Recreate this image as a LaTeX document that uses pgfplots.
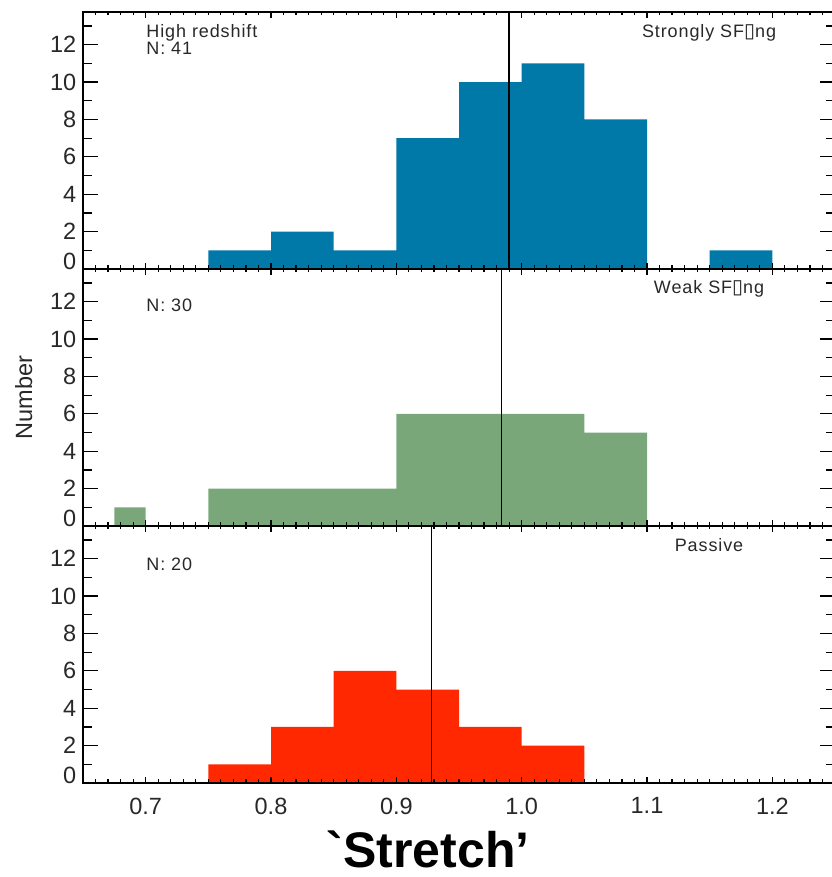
\documentclass[border=0pt]{standalone}
\usepackage{fontspec}
\setmainfont{Liberation Sans}[Ligatures=TeXOff]
\newfontfamily\dejavu{DejaVu Sans}
\usepackage{pgfplots}
\pgfplotsset{compat=1.18}
\definecolor{cblue}{RGB}{0,120,168}
\definecolor{cgreen}{RGB}{121,167,121}
\definecolor{cred}{RGB}{255,40,0}
\definecolor{txtgray}{RGB}{40,40,40}
\newcommand{\ticksize}{\fontsize{23.5}{28}\selectfont}
\newcommand{\insize}{\fontsize{18}{21}\selectfont\addfontfeatures{LetterSpace=5}}
\newcommand{\bx}{{\dejavu\fontsize{20}{22}\selectfont ▯}}
\pgfplotsset{
  panel/.style={
    scale only axis, width=752pt, height=257pt,
    xmin=0.65, xmax=1.25, ymin=0, ymax=13.75,
    axis on top,
    line width=1.5pt,
    xtick={0.7,0.8,0.9,1.0,1.1,1.2},
    minor xtick={0.65,0.66,...,1.25},
    ytick={0,2,4,6,8,10,12},
    minor ytick={1,3,5,7,9,11,13},
    yticklabels={\raisebox{16pt}{0},2,4,6,8,10,12},
    tick align=inside,
    xtick style={black, line width=1.2pt, /pgfplots/major tick length=6pt, /pgfplots/minor tick length=3.5pt},
    ytick style={black, line width=1.2pt, /pgfplots/major tick length=15pt, /pgfplots/minor tick length=9pt},
    tick label style={font=\ticksize, text=txtgray},
    yticklabel style={inner sep=0pt, xshift=-6pt},
    xticklabel style={inner sep=0pt, yshift=-14pt},
  },
}
\begin{document}
\begin{tikzpicture}
\useasboundingbox (0,0) rectangle (831pt,877pt);
% top panel
\begin{axis}[panel, at={(83pt,608pt)}, anchor=south west, xticklabels={}]
\addplot[const plot, fill=cblue, draw=none] coordinates {
 (0.75,1) (0.80,2) (0.85,1) (0.90,7) (0.95,10) (1.00,11) (1.05,8) (1.10,0) (1.15,1) (1.20,0)} \closedcycle;
\addplot[black, line width=1.6pt] coordinates {(0.990,0) (0.990,13.75)};
\node[anchor=base west, font=\insize, text=txtgray, inner sep=0pt] at (axis cs:0.70,12.4) {High redshift};
\node[anchor=base west, font=\insize, text=txtgray, inner sep=0pt] at (axis cs:0.70,11.48) {N: 41};
\node[anchor=base, font=\insize, text=txtgray, inner sep=0pt] at (axis cs:1.1495,12.4) {Strongly SF\bx ng};
\end{axis}
% middle panel
\begin{axis}[panel, at={(83pt,351pt)}, anchor=south west, xticklabels={},
  ylabel={Number},
  every axis y label/.style={at={(axis description cs:-0.0678,0.5)}, rotate=90, anchor=base, inner sep=0pt, font=\ticksize, text=txtgray}]
\addplot[const plot, fill=cgreen, draw=none] coordinates {
 (0.675,1) (0.70,0) (0.75,2) (0.80,2) (0.85,2) (0.90,6) (0.95,6) (1.00,6) (1.05,5) (1.10,0)} \closedcycle;
\addplot[black, line width=1.6pt] coordinates {(0.9838,0) (0.9838,13.75)};
\node[anchor=base west, font=\insize, text=txtgray, inner sep=0pt] at (axis cs:0.70,11.5) {N: 30};
\node[anchor=base, font=\insize, text=txtgray, inner sep=0pt] at (axis cs:1.1495,12.46) {Weak SF\bx ng};
\end{axis}
% bottom panel
\begin{axis}[panel, at={(83pt,94pt)}, anchor=south west,
  xticklabels={0.7,0.8,0.9,1.0,1.1,1.2},
  xlabel={`Stretch’},
  every axis x label/.style={at={(axis description cs:0.459,-0.327)}, anchor=base, inner sep=0pt, font=\bfseries\fontsize{50}{60}\selectfont}]
\addplot[const plot, fill=cred, draw=none] coordinates {
 (0.75,1) (0.80,3) (0.85,6) (0.90,5) (0.95,3) (1.00,2) (1.05,0)} \closedcycle;
\addplot[black, line width=1.6pt] coordinates {(0.928,0) (0.928,13.75)};
\node[anchor=base west, font=\insize, text=txtgray, inner sep=0pt] at (axis cs:0.70,11.39) {N: 20};
\node[anchor=base, font=\insize, text=txtgray, inner sep=0pt] at (axis cs:1.1495,12.4) {Passive};
\end{axis}
\end{tikzpicture}
\end{document}
